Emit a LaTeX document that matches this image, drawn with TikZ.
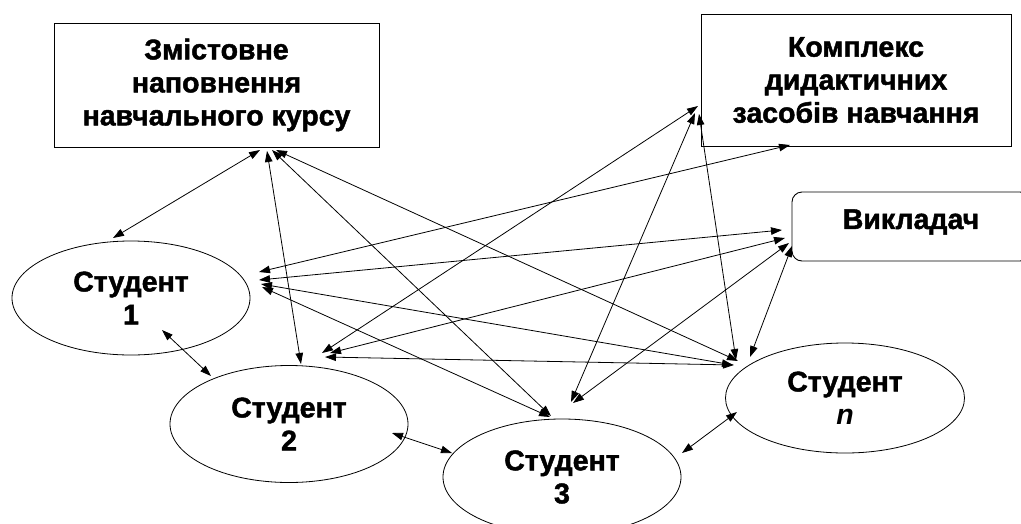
\documentclass[tikz,border=0pt]{standalone}
\usepackage{fontspec}
\setmainfont{Liberation Sans}[BoldFeatures={FakeBold=1.6}]
\usetikzlibrary{positioning,arrows.meta,calc,shapes.geometric}

\begin{document}
\begin{tikzpicture}[x=1pt,y=-1pt,
  font=\bfseries\fontsize{28.5}{33}\selectfont,
  box/.style={draw,line width=0.9pt,align=center,inner sep=2pt},
  oval/.style={ellipse,draw,line width=0.8pt,align=center,inner sep=2pt,minimum width=238pt},
  lnk/.style={{Triangle[length=11pt,width=7.5pt]}-{Triangle[length=11pt,width=7.5pt]},line width=0.8pt}]
\useasboundingbox (0,0) rectangle (1021,523);
\node[box,minimum width=325pt,minimum height=124pt] (a) at (216.5,85) {Змістовне\\наповнення\\навчального курсу};
\node[box,minimum width=310pt,minimum height=132pt] (b) at (856,80) {Комплекс\\дидактичних\\засобів навчання};
\node[box,rounded corners=10pt,minimum width=238pt,minimum height=69pt] (c) at (911,226.5) {};
\node at (911,222) {Викладач};
\node[oval,minimum height=114pt] (s1) at (131,298) {Студент\\1};
\node[oval,minimum height=117pt] (s2) at (289,424) {Студент\\2};
\node[oval,minimum height=116pt] (s3) at (562,477) {Студент\\3};
\node[oval,minimum width=239pt,minimum height=110pt] (sn) at (845,398) {Студент\\\textit{n}};
% content of the course
\draw[lnk] ($(a.center)+(43.5,65)$) -- ($(s1.center)+(-18,-60)$);
\draw[lnk] ($(a.center)+(50.5,66)$) -- ($(s2.center)+(12,-60)$);
\draw[lnk] ($(a.center)+(55.5,65)$) -- ($(s3.center)+(-11,-61)$);
\draw[lnk] ($(a.center)+(59.5,65)$) -- ($(sn.center)+(-107,-37)$);
% didactic means
\draw[lnk] ($(b.center)+(-66,65)$) -- ($(s1.center)+(128,-26)$);
\draw[lnk] ($(b.center)+(-158,26)$) -- ($(s2.center)+(33,-71)$);
\draw[lnk] ($(b.center)+(-161,33)$) -- ($(s3.center)+(9,-75)$);
\draw[lnk] ($(b.center)+(-157,34)$) -- ($(sn.center)+(-109,-38)$);
% teacher
\draw[lnk] ($(c.center)+(-129,3.5)$) -- ($(s1.center)+(128,-18)$);
\draw[lnk] ($(c.center)+(-126,11.5)$) -- ($(s2.center)+(41,-71)$);
\draw[lnk] ($(c.center)+(-122,16.5)$) -- ($(s3.center)+(11,-74)$);
\draw[lnk] ($(c.center)+(-119,19.5)$) -- ($(sn.center)+(-95,-41)$);
% students
\draw[lnk] ($(s1.center)+(31,32)$) -- ($(s2.center)+(-78,-48)$);
\draw[lnk] ($(s1.center)+(131,-11)$) -- ($(s3.center)+(-12,-60)$);
\draw[lnk] ($(s1.center)+(130,-14)$) -- ($(sn.center)+(-112,-33)$);
\draw[lnk] ($(s2.center)+(103,9)$) -- ($(s3.center)+(-110,-24)$);
\draw[lnk] ($(s2.center)+(36,-67)$) -- ($(sn.center)+(-111,-33)$);
\draw[lnk] ($(s3.center)+(120,-24)$) -- ($(sn.center)+(-108,14)$);
\end{tikzpicture}
\end{document}
